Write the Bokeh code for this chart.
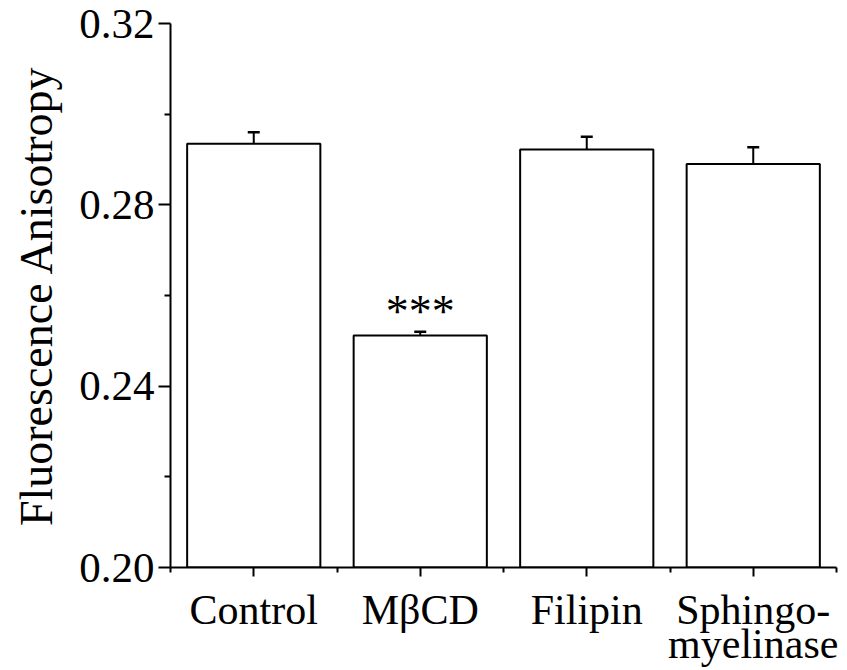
from bokeh.plotting import figure
from bokeh.models import Range1d, FixedTicker, ColumnDataSource, Whisker, TeeHead, NumeralTickFormatter
from bokeh.core.properties import value
from bokeh.embed import file_html
from bokeh.resources import INLINE

categories = ["Control", "MβCD", "Filipin", "Sphingo-\nmyelinase"]
means = [0.2935, 0.2512, 0.2922, 0.2890]
errors = [0.0025, 0.0008, 0.0028, 0.0037]
y_ticks = [0.20, 0.24, 0.28, 0.32]
y_minor = [0.22, 0.26, 0.30]
marks = ["", "***", "", ""]

FONT = "Liberation Serif"

xs = [i + 0.5 for i in range(len(categories))]
uppers = [m + e for m, e in zip(means, errors)]
src = ColumnDataSource(dict(x=xs, top=means, upper=uppers, mark=marks))

p = figure(width=847, height=670, output_backend="svg", toolbar_location=None,
           x_range=Range1d(0, len(categories)), y_range=Range1d(0.20, 0.32),
           min_border_left=170, min_border_right=11, min_border_top=23, min_border_bottom=103)
p.outline_line_color = None
p.xgrid.visible = False
p.ygrid.visible = False
p.background_fill_color = "white"

p.vbar(x="x", top="top", bottom=0.20, width=0.8, source=src,
       fill_color="white", line_color="black", line_width=2)

w = Whisker(base="x", upper="upper", lower="top", source=src, dimension="height",
            line_color="black", line_width=2,
            upper_head=TeeHead(size=12, line_color="black", line_width=2.5), lower_head=None)
p.add_layout(w)

p.text(x="x", y="upper", text="mark", source=src, text_font=value(FONT),
       text_font_size="46px", text_align="center", text_baseline="alphabetic",
       y_offset=-20, text_color="black")

# y axis
ya = p.yaxis[0]
ya.ticker = FixedTicker(ticks=y_ticks, minor_ticks=y_minor)
ya.formatter = NumeralTickFormatter(format="0.00")
ya.axis_label = "Fluorescence Anisotropy"
ya.axis_label_text_font = FONT
ya.axis_label_text_font_style = "normal"
ya.axis_label_text_font_size = "46px"
ya.axis_label_text_color = "black"
ya.axis_label_standoff = 14
ya.major_label_text_font = FONT
ya.major_label_text_font_size = "43px"
ya.major_label_text_color = "black"
ya.major_label_standoff = 4
ya.major_tick_out = 12
ya.major_tick_in = 0
ya.minor_tick_out = 6
ya.minor_tick_in = 0
ya.axis_line_width = 2
ya.major_tick_line_width = 2
ya.minor_tick_line_width = 2

# x axis
xa = p.xaxis[0]
xa.ticker = FixedTicker(ticks=xs, minor_ticks=list(range(len(categories) + 1)))
xa.major_label_overrides = {x: c for x, c in zip(xs, categories)}
xa.major_label_text_font = FONT
xa.major_label_text_font_size = "42px"
xa.major_label_text_color = "black"
xa.major_label_text_line_height = 0.75
xa.major_label_standoff = 10
xa.major_tick_out = 9
xa.major_tick_in = 0
xa.minor_tick_out = 5
xa.minor_tick_in = 0
xa.axis_line_width = 2
xa.major_tick_line_width = 2
xa.minor_tick_line_width = 2

open("out.html", "w").write(file_html(p, INLINE))
